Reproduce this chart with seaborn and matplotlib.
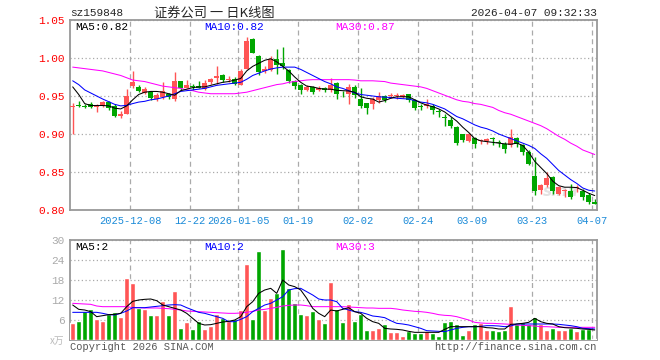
"""
证券公司 (sz159848) 日K线图 — 新浪财经风格复刻.
上: K线 + MA5/MA10/MA30, 下: 成交量 + 量能均线.
"""

import numpy as np
import pandas as pd

import matplotlib
matplotlib.use("Agg")
import matplotlib.pyplot as plt
import seaborn as sns

# ── 数据 ─────────────────────────────────────────────────────────────────────

OPEN = [0.935, 0.9375, 0.9365, 0.939, 0.936, 0.9365, 0.9425, 0.937, 0.9233, 0.9268,
        0.963, 0.962, 0.954, 0.955, 0.946, 0.9487, 0.952, 0.9465, 0.9697, 0.961,
        0.9625, 0.9636, 0.9596, 0.968, 0.9737, 0.978, 0.9706, 0.972, 0.965, 0.986,
        1.025, 1.0026, 0.983, 0.9846, 0.999, 0.993, 0.9838, 0.9697, 0.965, 0.9583,
        0.9618, 0.9583, 0.960, 0.9575, 0.967, 0.9525, 0.952, 0.9618, 0.9465, 0.9408,
        0.939, 0.9443, 0.9496, 0.950, 0.9495, 0.9487, 0.952, 0.9443, 0.9356, 0.9364,
        0.9364, 0.9298, 0.9218, 0.919, 0.909, 0.8996, 0.8908, 0.8952, 0.8913, 0.8908,
        0.8943, 0.8886, 0.8873, 0.886, 0.8952, 0.886, 0.8763, 0.8448, 0.8262, 0.8328,
        0.8430, 0.8207, 0.8252, 0.8251, 0.8294, 0.8244, 0.8200, 0.8105]
HIGH = [0.941, 0.943, 0.939, 0.9425, 0.939, 0.943, 0.943, 0.939, 0.930, 0.959,
        0.983, 0.9645, 0.962, 0.957, 0.954, 0.969, 0.954, 0.981, 0.970, 0.971,
        0.966, 0.970, 0.9706, 0.9737, 0.989, 0.9794, 0.976, 0.975, 0.986, 1.028,
        1.026, 1.0035, 0.989, 1.003, 1.012, 1.014, 0.986, 0.9715, 0.966, 0.964,
        0.963, 0.963, 0.962, 0.974, 0.968, 0.9566, 0.966, 0.964, 0.960, 0.9408,
        0.9487, 0.955, 0.951, 0.954, 0.954, 0.953, 0.953, 0.9465, 0.939, 0.9465,
        0.939, 0.933, 0.926, 0.922, 0.910, 0.9005, 0.901, 0.896, 0.894, 0.895,
        0.896, 0.8917, 0.889, 0.907, 0.896, 0.887, 0.8785, 0.8695, 0.8346, 0.850,
        0.8443, 0.8316, 0.828, 0.8338, 0.8325, 0.828, 0.8224, 0.8149]
LOW = [0.900, 0.935, 0.934, 0.9337, 0.929, 0.936, 0.931, 0.922, 0.9215, 0.926,
       0.960, 0.955, 0.952, 0.945, 0.944, 0.946, 0.9465, 0.944, 0.958, 0.960,
       0.958, 0.960, 0.958, 0.966, 0.966, 0.969, 0.968, 0.964, 0.964, 0.985,
       1.006, 0.977, 0.980, 0.983, 0.979, 0.985, 0.967, 0.9596, 0.953, 0.9566,
       0.953, 0.9566, 0.955, 0.955, 0.9465, 0.9487, 0.940, 0.948, 0.9346, 0.926,
       0.933, 0.941, 0.942, 0.947, 0.9465, 0.947, 0.942, 0.932, 0.931, 0.9346,
       0.9267, 0.923, 0.911, 0.908, 0.885, 0.889, 0.8899, 0.881, 0.887, 0.887,
       0.886, 0.883, 0.875, 0.883, 0.883, 0.873, 0.8596, 0.8203, 0.8215, 0.8303,
       0.8206, 0.8193, 0.817, 0.815, 0.8237, 0.8136, 0.8083, 0.8075]
CLOSE = [0.9355, 0.937, 0.936, 0.936, 0.937, 0.942, 0.9346, 0.9237, 0.9268, 0.950,
         0.9684, 0.9566, 0.9597, 0.947, 0.9518, 0.9566, 0.9487, 0.9697, 0.961, 0.964,
         0.9615, 0.961, 0.967, 0.9728, 0.9768, 0.9706, 0.9728, 0.966, 0.983, 1.023,
         1.007, 0.9816, 0.986, 0.999, 0.991, 0.990, 0.9697, 0.9627, 0.9575, 0.9618,
         0.9553, 0.961, 0.958, 0.964, 0.952, 0.952, 0.9618, 0.951, 0.9364, 0.9346,
         0.9465, 0.9496, 0.9443, 0.951, 0.9505, 0.9513, 0.9443, 0.9346, 0.9352, 0.939,
         0.931, 0.9294, 0.9214, 0.910, 0.888, 0.8917, 0.9004, 0.8864, 0.8917, 0.8939,
         0.8939, 0.8882, 0.8807, 0.896, 0.8873, 0.8763, 0.861, 0.8256, 0.8328, 0.8427,
         0.8250, 0.8300, 0.8258, 0.8174, 0.8298, 0.8167, 0.8100, 0.8083]

MA5 = [0.962, 0.952, 0.940, 0.9375, 0.9375, 0.9375, 0.937, 0.934, 0.933, 0.937,
       0.945, 0.952, 0.955, 0.956, 0.956, 0.955, 0.953, 0.951, 0.957, 0.959,
       0.961, 0.962, 0.962, 0.964, 0.966, 0.968, 0.969, 0.971, 0.973, 0.983,
       0.989, 0.993, 0.997, 0.999, 0.995, 0.989, 0.983, 0.975, 0.968, 0.963,
       0.962, 0.960, 0.959, 0.959, 0.9575, 0.957, 0.9566, 0.955, 0.949, 0.947,
       0.946, 0.942, 0.944, 0.947, 0.949, 0.949, 0.949, 0.945, 0.941, 0.938,
       0.936, 0.933, 0.929, 0.923, 0.917, 0.909, 0.902, 0.894, 0.891, 0.890,
       0.889, 0.888, 0.887, 0.8865, 0.888, 0.885, 0.876, 0.864, 0.856, 0.848,
       0.838, 0.832, 0.830, 0.830, 0.8295, 0.826, 0.822, 0.819]
MA10 = [0.970, 0.965, 0.958, 0.954, 0.950, 0.946, 0.9425, 0.939, 0.937, 0.9377,
        0.940, 0.942, 0.943, 0.945, 0.946, 0.948, 0.950, 0.953, 0.956, 0.957,
        0.958, 0.959, 0.960, 0.962, 0.964, 0.965, 0.966, 0.967, 0.968, 0.972,
        0.977, 0.980, 0.983, 0.9855, 0.987, 0.988, 0.988, 0.988, 0.985, 0.981,
        0.977, 0.973, 0.969, 0.966, 0.962, 0.960, 0.957, 0.954, 0.952, 0.951,
        0.950, 0.949, 0.9485, 0.948, 0.947, 0.9465, 0.946, 0.944, 0.942, 0.941,
        0.939, 0.936, 0.933, 0.928, 0.923, 0.920, 0.916, 0.912, 0.909, 0.907,
        0.904, 0.900, 0.897, 0.894, 0.891, 0.888, 0.885, 0.881, 0.874, 0.868,
        0.860, 0.852, 0.846, 0.840, 0.835, 0.829, 0.826, 0.825]
MA30 = [0.988, 0.987, 0.986, 0.985, 0.984, 0.983, 0.981, 0.979, 0.977, 0.974,
        0.971, 0.970, 0.969, 0.967, 0.965, 0.963, 0.962, 0.961, 0.960, 0.958,
        0.957, 0.955, 0.954, 0.953, 0.953, 0.953, 0.953, 0.953, 0.954, 0.955,
        0.957, 0.959, 0.961, 0.963, 0.965, 0.966, 0.968, 0.969, 0.970, 0.971,
        0.9715, 0.9715, 0.9715, 0.9715, 0.9715, 0.9715, 0.9715, 0.971, 0.970, 0.970,
        0.970, 0.9695, 0.969, 0.967, 0.966, 0.965, 0.964, 0.963, 0.962, 0.960,
        0.957, 0.954, 0.951, 0.948, 0.945, 0.943, 0.942, 0.940, 0.939, 0.937,
        0.935, 0.931, 0.928, 0.926, 0.923, 0.920, 0.917, 0.914, 0.911, 0.907,
        0.902, 0.897, 0.893, 0.888, 0.884, 0.879, 0.876, 0.873]

# 成交量 (万手)
VOLUME = [5.2, 5.8, 8.7, 9.2, 6.3, 5.8, 7.7, 8.3, 7.0, 18.7,
          17.2, 9.7, 9.3, 7.5, 7.5, 11.8, 7.5, 14.7, 3.7, 5.5,
          3.3, 5.7, 3.3, 4.3, 7.7, 6.6, 5.6, 6.3, 9.0, 22.8,
          6.3, 26.8, 8.9, 12.7, 14.1, 27.3, 15.7, 11.2, 7.7, 7.6,
          8.7, 6.3, 5.2, 17.5, 9.2, 5.5, 10.8, 5.7, 7.7, 3.0,
          3.0, 3.6, 4.8, 2.4, 2.4, 1.3, 2.7, 2.0, 2.0, 2.7,
          2.2, 1.2, 5.5, 5.7, 4.8, 1.5, 3.1, 4.9, 5.0, 3.0,
          3.0, 2.7, 3.1, 10.2, 4.8, 5.4, 4.9, 6.9, 4.8, 3.0,
          3.7, 3.0, 3.0, 3.7, 2.7, 3.3, 3.3, 0.3]
VOL_MA5 = [10.5, 9.2, 9.0, 8.5, 7.0, 7.3, 7.6, 7.7, 8.0, 10.0,
           11.6, 12.0, 12.2, 12.3, 11.8, 10.5, 10.0, 9.5, 9.0, 8.0,
           6.5, 5.0, 4.5, 4.6, 5.0, 5.4, 5.6, 6.0, 7.0, 10.0,
           11.5, 14.0, 15.0, 15.5, 14.0, 18.0, 16.5, 16.0, 15.0, 12.5,
           9.5, 8.0, 7.0, 9.0, 8.7, 9.2, 9.7, 8.5, 8.0, 6.5,
           5.5, 5.0, 3.5, 3.3, 3.2, 3.0, 2.6, 2.3, 2.3, 2.3,
           2.3, 2.3, 3.2, 4.0, 4.0, 4.0, 4.0, 4.0, 4.0, 3.7,
           3.6, 3.3, 3.3, 4.7, 4.8, 5.0, 5.3, 6.5, 5.5, 5.0,
           4.8, 4.0, 3.7, 3.6, 3.5, 3.3, 3.2, 3.0]
VOL_MA10 = [8.3, 8.3, 8.3, 8.3, 8.3, 8.0, 7.6, 7.5, 8.0, 8.7,
            9.7, 9.7, 9.7, 9.9, 10.1, 10.3, 10.5, 10.6, 10.5, 9.7,
            9.0, 8.3, 8.0, 7.5, 7.0, 6.5, 5.5, 5.5, 6.2, 7.0,
            8.5, 9.5, 10.5, 11.0, 12.0, 13.0, 15.0, 15.4, 15.5, 14.5,
            13.5, 12.3, 12.0, 12.0, 11.5, 9.5, 9.0, 8.5, 8.3, 7.8,
            7.2, 7.0, 6.7, 5.8, 5.0, 4.8, 4.5, 4.0, 3.5, 2.8,
            2.7, 2.6, 2.5, 3.0, 3.5, 3.8, 4.0, 4.0, 4.1, 4.3,
            4.3, 4.2, 4.0, 4.2, 4.8, 4.8, 4.8, 4.8, 4.8, 4.8,
            4.8, 4.7, 4.5, 4.3, 4.0, 3.5, 3.4, 3.3]
VOL_MA30 = [11.0, 10.9, 10.8, 10.7, 10.2, 10.0, 10.0, 10.0, 10.0, 10.0,
            9.7, 9.7, 9.6, 9.6, 9.6, 9.5, 9.4, 9.2, 9.0, 8.7,
            8.6, 8.5, 8.4, 8.3, 8.2, 8.1, 8.0, 8.0, 8.1, 8.3,
            8.6, 9.0, 9.2, 9.5, 9.8, 10.2, 10.4, 10.5, 10.5, 10.3,
            10.0, 10.0, 10.0, 10.0, 10.0, 10.0, 9.9, 9.8, 9.7, 9.6,
            9.6, 9.5, 9.5, 9.5, 9.3, 9.0, 8.8, 8.6, 8.5, 8.3,
            8.0, 7.6, 7.4, 7.3, 7.0, 6.5, 6.0, 5.3, 5.1, 5.0,
            5.0, 4.9, 4.8, 4.7, 4.5, 4.4, 4.3, 4.2, 4.0, 4.0,
            3.9, 3.8, 3.8, 3.8, 3.8, 3.8, 3.8, 3.8]

DATE_POS = [10, 20, 28, 38, 48, 58, 67, 77, 87]
DATE_LABELS = ["2025-12-08", "12-22", "2026-01-05", "01-19", "02-02",
               "02-24", "03-09", "03-23", "04-07"]
PRICE_TICKS = [0.80, 0.85, 0.90, 0.95, 1.00, 1.05]
VOL_TICKS = [6, 12, 18, 24, 30]

# ── 样式 ─────────────────────────────────────────────────────────────────────

RED = "#ff5555"
GREEN = "#00a600"
GRID = "#aaaaaa"
FRAME = "#999999"
MONO = "Liberation Mono"
W, H = 660, 360


def px(x, y):
    """像素坐标 → figure 坐标"""
    return x / W, 1 - y / H


def style_axes(ax):
    ax.set_xlim(-0.45, 87.38)
    ax.set_xticks([p - 0.45 for p in DATE_POS])
    ax.xaxis.grid(True, color=GRID, linestyle=(0, (4, 3)), linewidth=0.9)
    ax.yaxis.grid(True, color=GRID, linestyle=(0, (1, 2)), linewidth=0.9)
    ax.set_axisbelow(True)
    ax.tick_params(length=0)
    ax.set_xlabel("")
    ax.set_ylabel("")
    for spine in ax.spines.values():
        spine.set_visible(True)
        spine.set_edgecolor(FRAME)
        spine.set_linewidth(1.3)


sns.set_style("white")
plt.rcParams["font.family"] = [MONO, "Noto Sans CJK SC", "DejaVu Sans"]

idx = np.arange(len(CLOSE))
o, h, l, c = (np.array(a) for a in (OPEN, HIGH, LOW, CLOSE))
up = c >= o
colors = np.where(up, RED, GREEN)

fig = plt.figure(figsize=(W / 100, H / 100), dpi=100)
fig.patch.set_facecolor("white")

# ── K线 ──────────────────────────────────────────────────────────────────────

ax = fig.add_axes([70 / W, 1 - 210 / H, 527 / W, 190 / H])
ax.vlines(idx, l, h, colors=colors, linewidth=1.0, zorder=2)
body = np.maximum(np.abs(c - o), 0.0012)
ax.bar(idx, body, bottom=np.minimum(o, c), width=0.82, color=colors,
       linewidth=0, zorder=3)
for ma, col in ((MA30, "#ff00ff"), (MA10, "#0000ff"), (MA5, "black")):
    sns.lineplot(x=idx, y=ma, color=col, linewidth=0.75, ax=ax, zorder=4)

ax.set_ylim(0.80, 1.05)
ax.set_yticks(PRICE_TICKS)
ax.set_yticklabels([f"{v:.2f}" for v in PRICE_TICKS])
style_axes(ax)
ax.set_xticklabels(DATE_LABELS)
ax.tick_params(axis="y", labelcolor="red", labelsize=8, pad=4)
ax.tick_params(axis="x", labelcolor="#1a8ad8", labelsize=7.5, pad=4)
ax.text(0.965, 0.06, "sina", transform=ax.transAxes, ha="right", va="bottom",
        fontsize=11, style="italic", fontweight="bold", color="#e2e2e2",
        family="DejaVu Sans", zorder=1)

# ── 成交量 ───────────────────────────────────────────────────────────────────

axv = fig.add_axes([70 / W, 1 - 340 / H, 527 / W, 100 / H])
vdf = pd.DataFrame({"i": idx, "vol": VOLUME, "dir": np.where(up, "up", "down")})
sns.barplot(data=vdf, x="i", y="vol", hue="dir", palette={"up": RED, "down": GREEN},
            width=0.85, dodge=False, legend=False, saturation=1, ax=axv, zorder=3)
for ma, col in ((VOL_MA30, "#ff00ff"), (VOL_MA10, "#0000ff"), (VOL_MA5, "black")):
    sns.lineplot(x=idx, y=ma, color=col, linewidth=0.75, ax=axv, zorder=4)

axv.set_ylim(0, 30)
axv.set_yticks(VOL_TICKS)
axv.set_yticklabels([str(v) for v in VOL_TICKS])
style_axes(axv)
axv.set_xticklabels([])
axv.tick_params(axis="y", labelcolor="#aaaaaa", labelsize=8, pad=4)

# ── 文字 ─────────────────────────────────────────────────────────────────────

fig.text(*px(70, 13), "sz159848", fontsize=8, va="center", ha="left")
fig.text(*px(214, 13), "证券公司 一 日K线图", fontsize=9.5, va="center", ha="center",
         family=["Noto Sans CJK SC", "DejaVu Sans"])
fig.text(*px(597, 13), "2026-04-07 09:32:33", fontsize=8, va="center", ha="right")

for x, txt, col in ((75, "MA5:0.82", "black"), (204, "MA10:0.82", "#0000ff"),
                    (335, "MA30:0.87", "#ff00ff")):
    fig.text(*px(x, 27), txt, fontsize=8, color=col, va="center", ha="left")
for x, txt, col in ((75, "MA5:2", "black"), (204, "MA10:2", "#0000ff"),
                    (335, "MA30:3", "#ff00ff")):
    fig.text(*px(x, 247), txt, fontsize=8, color=col, va="center", ha="left")

fig.text(*px(64, 341), "x万", fontsize=7, color="#bbbbbb", va="center", ha="right",
         style="italic", family=["Noto Sans CJK SC", "DejaVu Sans"])
fig.text(*px(70, 347), "Copyright 2026 SINA.COM", fontsize=7.5, color="#555555",
         va="center", ha="left")
fig.text(*px(597, 347), "http://finance.sina.com.cn", fontsize=7.5, color="#555555",
         va="center", ha="right")

fig.savefig("out.png", dpi=100, facecolor=fig.get_facecolor())
plt.close(fig)
